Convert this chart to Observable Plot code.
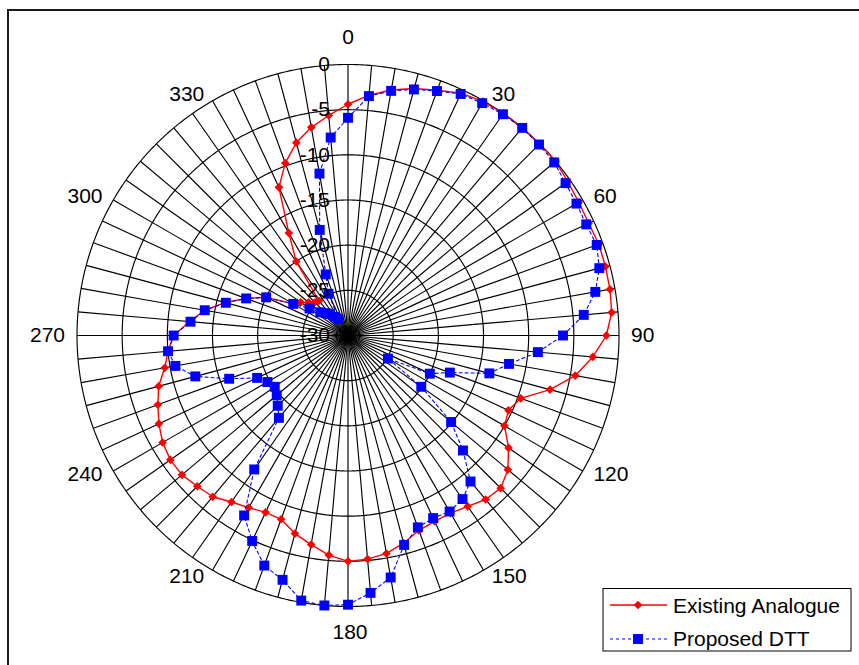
<!DOCTYPE html>
<html><head><meta charset="utf-8">
<script src="https://cdn.jsdelivr.net/npm/d3@7"></script>
<script src="https://cdn.jsdelivr.net/npm/@observablehq/plot@0.6"></script>
<style>
body{margin:0;background:#fff;}
#wrap{position:relative;width:859px;height:665px;overflow:hidden;font-family:"Liberation Sans",Arial,sans-serif;background:#fff;}
#frame{position:absolute;left:7px;top:9px;width:1000px;height:1000px;border:2px solid #1a1a1a;box-sizing:border-box;}
#chart{position:absolute;left:0;top:0;}
#legend{position:absolute;left:0;top:0;}
</style></head><body>
<div id="wrap"><div id="frame"></div><div id="chart"></div>
<svg id="legend" width="859" height="665" font-family="Liberation Sans, Arial, sans-serif" font-size="21"></svg></div>
<script>
// Angles (degrees, clockwise from top)
const angles = [0,5,10,15,20,25,30,35,40,45,50,55,60,65,70,75,80,85,90,95,100,105,110,115,120,125,130,135,140,145,150,155,160,165,170,175,
  180,185,190,195,200,205,210,215,220,225,230,235,240,245,250,255,260,265,270,275,280,285,290,295,300,305,310,315,320,325,330,335,340,345,350,355];

// Existing Analogue (dB)
const existingAnalogue = [-4.4,-3.3,-2.4,-1.7,-1.1,-0.4,-0.1,0.0,0.0,0.0,0.0,-0.3,-0.5,-0.6,-0.45,-0.5,-0.55,-0.7,-1.4,-2.8,-4.45,-6.85,-9.65,-10.4,-10.0,-8.3,-6.9,-6.1,-6.3,-6.9,-7.3,-7.3,-7.05,-6.2,-5.5,-5.15,
  -5.0,-5.6,-6.5,-7.3,-8.35,-8.4,-8.0,-7.5,-6.7,-6.4,-6.0,-6.0,-6.3,-6.9,-7.6,-8.3,-9.4,-10.0,-10.7,-12.4,-13.9,-15.9,-18.0,-20.0,-23.0,-23.6,-24.3,-24.8,-25.0,-20.0,-16.9,-11.9,-9.7,-7.9,-6.6,-5.55];

// Proposed DTT (dB)
const proposedDTT = [-5.9,-3.4,-2.5,-1.8,-1.2,-0.5,-0.3,-0.1,0.0,-0.1,-0.2,-0.6,-0.8,-0.9,-0.7,-1.2,-2.2,-3.8,-6.2,-8.9,-11.9,-13.8,-18.0,-20.0,-24.9,-20.1,-15.1,-12.0,-8.9,-7.9,-7.5,-7.7,-7.4,-6.0,-2.8,-1.4,
  -0.2,0.0,-0.2,-2.0,-2.9,-4.9,-7.0,-11.9,-18.1,-19.0,-19.7,-20.1,-19.7,-18.9,-16.0,-12.5,-10.6,-10.0,-10.7,-12.5,-13.9,-16.0,-18.0,-20.0,-23.0,-24.8,-26.0,-26.5,-26.9,-27.5,-27.9,-24.9,-22.8,-17.9,-11.8,-8.0];

// Tick labels
const angleTicks = [0,30,60,90,120,150,180,210,240,270,300,330];
const radialTicks = [-30,-25,-20,-15,-10,-5,0];
const spokeAngles = angles;

const RED = "#ff0000", BLUE = "#0000ff";
const rMin = -30, rMax = 0;
const toLon = a => 180 - a;
const toLat = v => 90 - (v - rMin) / (rMax - rMin) * 90;

const tbl = vals => angles.map((a, i) => ({a, v: vals[i]}));
const closed = t => t.concat([t[0]]);
const redT = tbl(existingAnalogue), blueT = tbl(proposedDTT);

const rad = d => d * Math.PI / 180;
const angleLabel = a => {
  const s = Math.sin(rad(a)), c = Math.cos(rad(a));
  let anchor = "middle", dx = 0, dy = 0;
  if (Math.abs(s) < 1e-6) { dy = c > 0 ? -27 : 26; dx = c > 0 ? 0 : 2; }
  else { anchor = s > 0 ? "start" : "end"; dx = Math.sign(s) * (7 + 5 * s * s); dy = -7 * c; }
  return Plot.text([a], {x: d => toLon(d), y: () => 0, text: d => String(d), textAnchor: anchor, dx, dy, fontSize: 21, fill: "black"});
};

const chart = Plot.plot({
  width: 859, height: 665,
  marginTop: 64, marginLeft: 76.5, marginRight: 240.5, marginBottom: 59,
  projection: {type: "azimuthal-equidistant", rotate: [0, -90], domain: d3.geoCircle().center([0, 90]).radius(90)(), clip: false},
  style: {fontFamily: "Liberation Sans, Arial, sans-serif", fontSize: "21px", background: "transparent", overflow: "visible"},
  marks: [
    Plot.link(spokeAngles, {x1: a => toLon(a), y1: () => 90, x2: a => toLon(a), y2: () => 0, stroke: "black", strokeWidth: 1.15}),
    Plot.geo(radialTicks.filter(v => v > rMin), {geometry: v => d3.geoCircle().center([0, 90]).radius(90 - toLat(v)).precision(0.5)(), fill: "none", stroke: "black", strokeWidth: 1.15}),
    Plot.line(closed(redT), {x: d => toLon(d.a), y: d => toLat(d.v), stroke: RED, strokeWidth: 1.4, curve: "linear"}),
    Plot.dot(redT, {x: d => toLon(d.a), y: d => toLat(d.v), symbol: "diamond2", r: 3.9, fill: RED, stroke: "none"}),
    Plot.line(closed(blueT), {x: d => toLon(d.a), y: d => toLat(d.v), stroke: BLUE, strokeWidth: 1.1, strokeDasharray: "3,3", curve: "linear"}),
    Plot.dot(blueT, {x: d => toLon(d.a), y: d => toLat(d.v), symbol: "square", r: 5.6, fill: BLUE, stroke: "none"}),
    ...angleTicks.map(angleLabel),
    Plot.text(radialTicks, {x: () => 180, y: v => toLat(v), text: v => String(v), textAnchor: "end", dx: -18, fontSize: 21, fill: "black"})
  ]
});
document.getElementById("chart").appendChild(chart);

// Legend
const L = d3.select("#legend");
L.append("rect").attr("x", 603).attr("y", 588.5).attr("width", 248).attr("height", 62.5).attr("fill", "#fff").attr("stroke", "#000").attr("stroke-width", 1);
L.append("line").attr("x1", 610).attr("x2", 667).attr("y1", 605).attr("y2", 605).attr("stroke", RED).attr("stroke-width", 1.4);
L.append("path").attr("transform", "translate(638,605)").attr("d", d3.symbol(d3.symbolDiamond2, 3.9 * 3.9 * Math.PI)()).attr("fill", RED);
L.append("text").attr("x", 673).attr("y", 612.5).text("Existing Analogue");
L.append("line").attr("x1", 610).attr("x2", 667).attr("y1", 639).attr("y2", 639).attr("stroke", BLUE).attr("stroke-width", 1.1).attr("stroke-dasharray", "3,3");
L.append("path").attr("transform", "translate(638,639)").attr("d", d3.symbol(d3.symbolSquare, 5.6 * 5.6 * Math.PI)()).attr("fill", BLUE);
L.append("text").attr("x", 673).attr("y", 646).text("Proposed DTT");
</script>
</body></html>
